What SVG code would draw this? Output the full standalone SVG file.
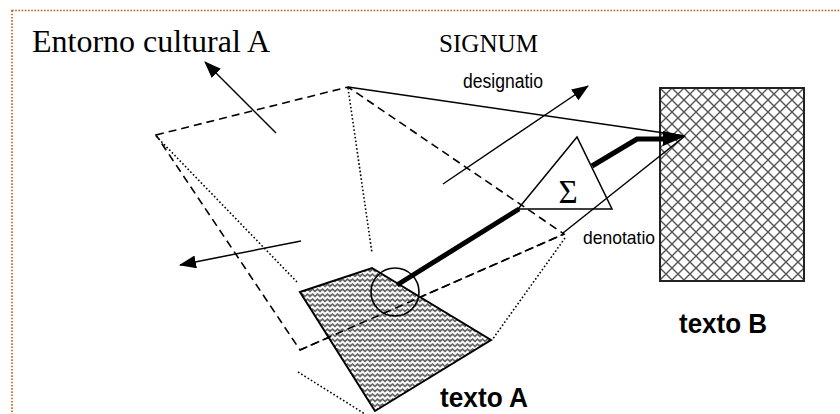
<svg xmlns="http://www.w3.org/2000/svg" width="840" height="414" viewBox="0 0 840 414">
  <style>
    .dash { fill: none; stroke: #000; stroke-width: 1.6; stroke-dasharray: 8 5; }
    .dot { fill: none; stroke: #000; stroke-width: 1.6; stroke-dasharray: 1.6 2.2; }
    .thin { fill: none; stroke: #000; stroke-width: 1.5; }
    .thick { fill: none; stroke: #000; stroke-width: 5; }
    .serif { font-family: "Liberation Serif", "Times New Roman", serif; fill: #000; }
    .sans { font-family: "Liberation Sans", Arial, sans-serif; fill: #000; }
    .bold { font-family: "Liberation Sans", Arial, sans-serif; font-weight: bold; fill: #000; }
  </style>
  <defs>
    <marker id="head" markerUnits="userSpaceOnUse" markerWidth="17" markerHeight="13" refX="16" refY="6.5" orient="auto">
      <path d="M0,0 L17,6.5 L0,13 z" fill="#000"/>
    </marker>
    <!-- diagonal crosshatch for texto B -->
    <pattern id="cross" patternUnits="userSpaceOnUse" width="12" height="12" x="660" y="88">
      <rect width="12" height="12" fill="#fff"/>
      <path d="M0,0 L12,12 M12,0 L0,12" stroke="#555" stroke-width="1.4"/>
      <path d="M-1,11 L1,13 M11,-1 L13,1 M-1,1 L1,-1 M11,13 L13,11" stroke="#555" stroke-width="1.4"/>
    </pattern>
    <!-- woven zigzag texture for texto A -->
    <pattern id="weave" patternUnits="userSpaceOnUse" width="10" height="10">
      <rect width="10" height="10" fill="#6a6a6a"/>
      <path d="M0,4 L2.5,1.5 L5,4 L7.5,1.5 L10,4 M0,9 L2.5,6.5 L5,9 L7.5,6.5 L10,9" stroke="#fff" stroke-width="1.8" fill="none"/>
    </pattern>
  </defs>

  <!-- page frame -->
  <g id="frame">
    <rect x="12" y="10.5" width="840" height="420" fill="none" stroke="#c55a11" stroke-width="1.6" stroke-dasharray="1.6 1.6"/>
  </g>

  <!-- labels -->
  <g id="label-entorno"><text class="serif" x="32" y="52" font-size="32">Entorno cultural A</text></g>
  <g id="label-signum"><text class="serif" x="439" y="52" font-size="25" textLength="99" lengthAdjust="spacingAndGlyphs">SIGNUM</text></g>
  <g id="label-designatio"><text class="sans" x="463" y="88" font-size="20" textLength="80" lengthAdjust="spacingAndGlyphs">designatio</text></g>
  <g id="label-denotatio"><text class="sans" x="583" y="244" font-size="19" textLength="72" lengthAdjust="spacingAndGlyphs">denotatio</text></g>

  <!-- cultural plane -->
  <g id="plane">
    <polygon class="dash" points="156,135 348,87 564,234 300,350"/>
  </g>

  <!-- texto A -->
  <g id="texto-a">
    <polygon points="300,292 372,268 491,340 375,411" fill="url(#weave)" stroke="#000" stroke-width="2"/>
    <text class="bold" x="440" y="407" font-size="27" textLength="88" lengthAdjust="spacingAndGlyphs">texto A</text>
  </g>

  <!-- texto B -->
  <g id="texto-b">
    <rect x="660" y="88" width="144" height="193" fill="url(#cross)" stroke="#222" stroke-width="2"/>
    <text class="bold" x="679" y="333" font-size="27" textLength="88" lengthAdjust="spacingAndGlyphs">texto B</text>
  </g>

  <!-- sigma filter -->
  <g id="sigma">
    <polygon points="577,137 518,209 612,209" fill="none" stroke="#000" stroke-width="1.5"/>
    <text class="serif" x="568" y="203" font-size="33" text-anchor="middle">Σ</text>
  </g>

  <!-- focus circle -->
  <g id="focus">
    <circle cx="395" cy="292" r="24" fill="none" stroke="#000" stroke-width="1.6"/>
  </g>

  <g id="connectors">
    <!-- dashed edge drawn over the texture -->
    <line class="dash" x1="300" y1="350" x2="564" y2="234"/>
    <!-- projection edges -->
    <line class="dot" x1="348" y1="88" x2="372" y2="253"/>
    <line class="dot" x1="156" y1="136" x2="297" y2="282"/>
    <line class="dot" x1="298" y1="372" x2="365" y2="414"/>
    <line class="dot" x1="565" y1="238" x2="492" y2="340"/>
    <!-- rays towards texto B -->
    <line class="thin" x1="348" y1="87" x2="685" y2="136"/>
    <line class="thin" x1="563" y1="233" x2="685" y2="136"/>
    <!-- translation path -->
    <line class="thick" x1="397" y1="285" x2="519" y2="209"/>
    <polyline class="thick" points="592,166 637,139 666,139"/>
    <polygon points="663,131 686,136 663,146" fill="#000"/>
    <!-- directional arrows -->
    <line class="thin" x1="276" y1="133" x2="205" y2="62" marker-end="url(#head)"/>
    <line class="thin" x1="301" y1="241" x2="180" y2="265" marker-end="url(#head)"/>
    <line class="thin" x1="443" y1="184" x2="588" y2="86" marker-end="url(#head)"/>
  </g>
</svg>
